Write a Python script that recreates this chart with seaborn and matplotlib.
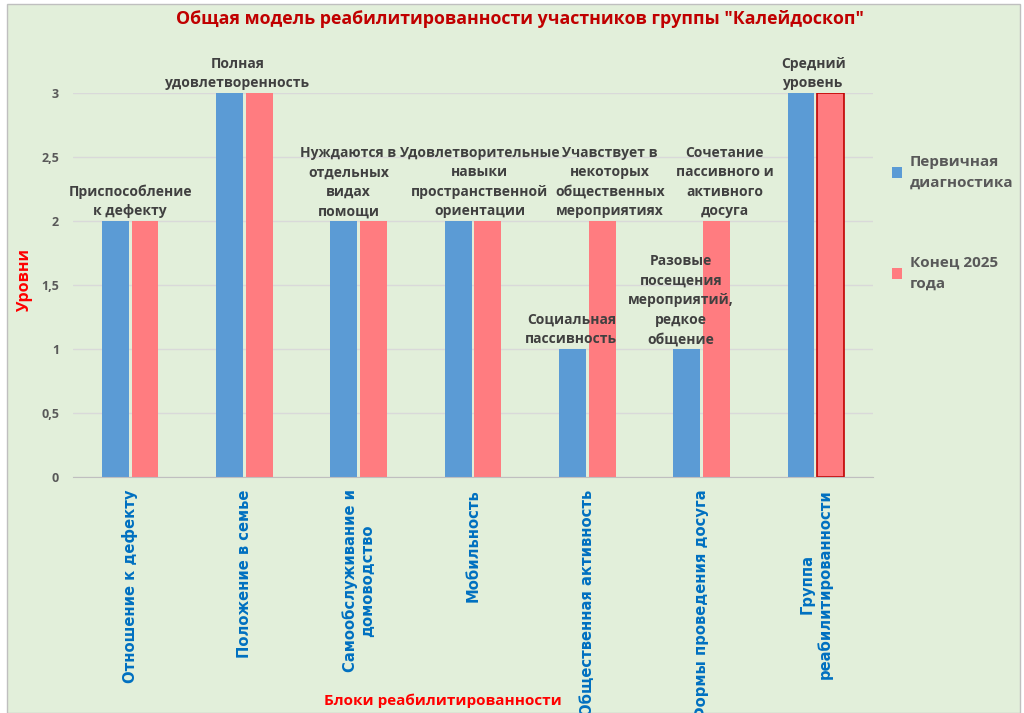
import numpy as np
import pandas as pd
import matplotlib.pyplot as plt
import matplotlib.patches as mpatches
import seaborn as sns

sns.set_style('white')
plt.rcParams['font.family'] = ['Open Sans', 'DejaVu Sans']

# данные
blocks = ['Отношение к дефекту', 'Положение в семье', 'Самообслуживание и\nдомоводство',
          'Мобильность', 'Общественная активность', 'Формы проведения досуга',
          'Группа\nреабилитированности']
first = [2, 3, 2, 2, 1, 1, 3]
end2025 = [2, 3, 2, 2, 2, 2, 3]
series = ['Первичная\nдиагностика', 'Конец 2025\nгода']
lab_first = ['Приспособление\nк дефекту', 'Полная\nудовлетворенность',
             'Нуждаются в\nотдельных\nвидах\nпомощи',
             'Удовлетворительные\nнавыки\nпространственной\nориентации',
             'Социальная\nпассивность',
             'Разовые\nпосещения\nмероприятий,\nредкое\nобщение',
             'Средний\nуровень']
lab_end = ['', '', '', '', 'Учавствует в\nнекоторых\nобщественных\nмероприятиях',
           'Сочетание\nпассивного и\nактивного\nдосуга', '']
yticks = [0, 0.5, 1, 1.5, 2, 2.5, 3]
ytick_labels = ['0', '0,5', '1', '1,5', '2', '2,5', '3']

df = pd.DataFrame({
    'block': blocks * 2,
    'series': [series[0]] * len(blocks) + [series[1]] * len(blocks),
    'value': first + end2025,
})

# сдвиг подписей по горизонтали (в долях категории), как в исходной раскладке
shift_single = [0, -0.06, -0.09, 0.06, 0, 0, -0.02]
shift_pair = {4: (-0.14, 0.2), 5: (-0.18, 0.2)}

green = '#e2efda'
fig = plt.figure(figsize=(10.24, 7.13), dpi=100, facecolor='white')
fig.patches.append(mpatches.Rectangle((7 / 1024, 0), 1013 / 1024, 1 - 4 / 713,
                                      transform=fig.transFigure, facecolor=green,
                                      edgecolor='#bfbfbf', lw=1, zorder=-10))
ax = fig.add_axes([73 / 1024, 1 - 477 / 713, 800 / 1024, 384 / 713])
ax.set_facecolor(green)

sns.barplot(data=df, x='block', y='value', hue='series', order=blocks,
            palette=['#5b9bd5', '#ff7c80'], width=0.52, gap=0.1, ax=ax,
            saturation=1, legend=True, linewidth=0)

# выделенный столбик последней категории
pink_bars = ax.containers[1]
pink_bars[-1].set_edgecolor('#c00000')
pink_bars[-1].set_linewidth(1.2)

ax.set_ylim(0, 3)
ax.set_xlim(-0.5, len(blocks) - 0.5)
ax.set_yticks(yticks)
ax.set_yticklabels(ytick_labels, color='#595959', fontsize=9, fontweight='bold')
ax.yaxis.grid(True, color='#d9d9d9', lw=1)
ax.set_axisbelow(True)
for s in ['top', 'right', 'left']:
    ax.spines[s].set_visible(False)
ax.spines['bottom'].set_color('#bfbfbf')
ax.tick_params(axis='y', length=0, pad=10)
ax.set_xticks(range(len(blocks)))
ax.set_xticklabels(blocks, rotation=90, ha='center', va='top', multialignment='center',
                   color='#0070c0', fontsize=10.6, fontweight='bold', family='DejaVu Sans')
ax.tick_params(axis='x', length=0, pad=9)
ax.set_xticks(np.arange(-0.5, len(blocks)), minor=True)
ax.tick_params(axis='x', which='minor', length=6, color='#bfbfbf', direction='out')
ax.set_xlabel('')
ax.set_ylabel('')

# подписи данных
txt = dict(ha='center', va='bottom', fontsize=10, fontweight='bold', color='#404040',
           linespacing=1.5, clip_on=False)
for i in range(len(blocks)):
    if lab_end[i]:
        a, b = shift_pair[i]
        ax.text(i + a, first[i] + 0.02, lab_first[i], **txt)
        ax.text(i + b, end2025[i] + 0.02, lab_end[i], **txt)
    else:
        ax.text(i + shift_single[i], max(first[i], end2025[i]) + 0.02, lab_first[i], **txt)

leg = ax.legend(loc='upper left', bbox_to_anchor=(1.006, 0.875), frameon=False,
                fontsize=11, labelspacing=4.3, handlelength=0.7, handleheight=0.7,
                handletextpad=0.5)
for t in leg.get_texts():
    t.set_color('#595959')
    t.set_fontweight('bold')
    t.set_linespacing(1.65)

fig.text(520 / 1024, 1 - 19 / 713, 'Общая модель реабилитированности участников группы "Калейдоскоп"',
         ha='center', va='center', color='#c00000', fontsize=12.8, fontweight='bold')
fig.text(25 / 1024, 1 - 280 / 713, 'Уровни', rotation=90, ha='center', va='center',
         color='#ff0000', fontsize=11.5, fontweight='bold')
fig.text(443 / 1024, 1 - 701 / 713, 'Блоки реабилитированности', ha='center', va='center',
         color='#ff0000', fontsize=11, fontweight='bold')

fig.savefig('out.png', dpi=100, facecolor=fig.get_facecolor())
